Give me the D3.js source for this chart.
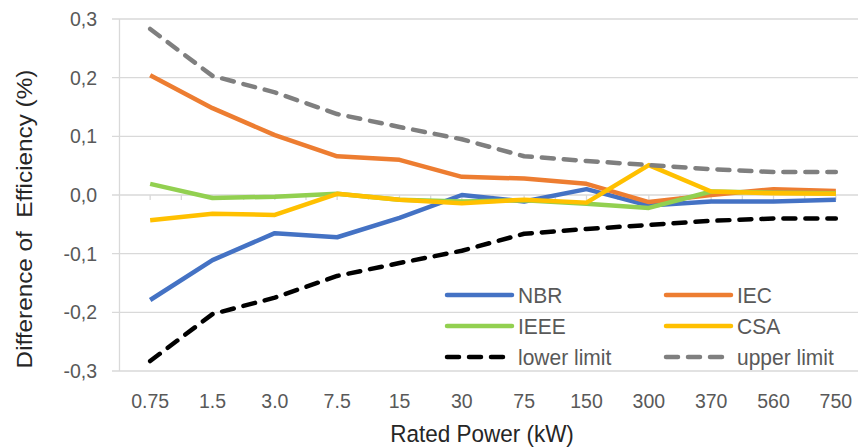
<!DOCTYPE html>
<html>
<head>
<meta charset="utf-8">
<script src="https://cdn.jsdelivr.net/npm/d3@7"></script>
<style>
  body { margin: 0; background: #fff; }
  text { font-family: "Liberation Sans", Arial, sans-serif; }
</style>
</head>
<body>
<div id="chart"></div>
<script>
// rated power categories
const categories = ["0.75", "1.5", "3.0", "7.5", "15", "30", "75", "150", "300", "370", "560", "750"];
const yTicks = [-0.3, -0.2, -0.1, 0.0, 0.1, 0.2, 0.3];

const nbr   = [-0.179, -0.111, -0.065, -0.072, -0.039, 0.000, -0.011, 0.010, -0.018, -0.011, -0.011, -0.008];
const iec   = [0.204, 0.148, 0.102, 0.066, 0.060, 0.031, 0.028, 0.019, -0.012, 0.000, 0.010, 0.007];
const ieee  = [0.019, -0.005, -0.003, 0.002, -0.008, -0.011, -0.009, -0.015, -0.022, 0.006, 0.004, 0.003];
const csa   = [-0.043, -0.032, -0.034, 0.002, -0.008, -0.014, -0.008, -0.013, 0.051, 0.006, 0.003, 0.002];
const lower = [-0.283, -0.203, -0.175, -0.138, -0.116, -0.095, -0.066, -0.058, -0.051, -0.044, -0.040, -0.040];
const upper = [0.283, 0.203, 0.175, 0.138, 0.116, 0.095, 0.066, 0.058, 0.051, 0.044, 0.039, 0.039];

const seriesNames = ["NBR", "IEC", "IEEE", "CSA", "lower limit", "upper limit"];
const seriesValues = [nbr, iec, ieee, csa, lower, upper];
const colors = ["#4472C4", "#ED7D31", "#92D050", "#FFC000", "#000000", "#7F7F7F"];
const dashed = [false, false, false, false, true, true];

const W = 858, H = 447;
const margin = {top: 19, left: 119, bottom: 76};
const plotRight = 867;   // plot area runs a bit past the picture edge
const stretch = 1.08;    // the text in the original is a little taller than wide

const svg = d3.select("#chart").append("svg")
    .attr("width", W)
    .attr("height", H);

const x = d3.scaleBand()
    .domain(categories)
    .range([margin.left, plotRight]);

const y = d3.scaleLinear()
    .domain([-0.3, 0.3])
    .range([H - margin.bottom, margin.top]);

const cx = c => x(c) + x.bandwidth() / 2;
const fmt = d => d3.format(".1f")(d).replace(".", ",").replace("−", "-");

// gridlines
svg.append("g")
    .selectAll("line")
    .data(yTicks)
    .enter()
    .append("line")
        .attr("x1", margin.left - 7)
        .attr("x2", W)
        .attr("y1", d => y(d))
        .attr("y2", d => y(d))
        .style("stroke", "#d9d9d9")
        .style("stroke-width", 1.3);

// vertical axis line
svg.append("line")
    .attr("x1", margin.left + 0.5).attr("x2", margin.left + 0.5)
    .attr("y1", y(0.3)).attr("y2", y(-0.3))
    .style("stroke", "#d9d9d9")
    .style("stroke-width", 1.3);

// small tick marks along the zero line, at centres and boundaries
const tickXs = [];
categories.forEach(c => { tickXs.push(cx(c)); tickXs.push(x(c) + x.bandwidth()); });
svg.append("g")
    .selectAll("line")
    .data(tickXs)
    .enter()
    .append("line")
        .attr("x1", d => d).attr("x2", d => d)
        .attr("y1", y(0)).attr("y2", y(0) + 5)
        .style("stroke", "#d9d9d9")
        .style("stroke-width", 1.3);

// y tick labels
svg.append("g")
    .selectAll("text")
    .data(yTicks)
    .enter()
    .append("text")
        .attr("transform", d => `translate(97, ${y(d) + 7}) scale(1, ${stretch})`)
        .attr("text-anchor", "end")
        .style("font-size", "19.5px")
        .style("fill", "#595959")
        .text(d => fmt(d));

// x tick labels
svg.append("g")
    .selectAll("text")
    .data(categories)
    .enter()
    .append("text")
        .attr("transform", d => `translate(${cx(d)}, 408) scale(1, ${stretch})`)
        .attr("text-anchor", "middle")
        .style("font-size", "19.5px")
        .style("fill", "#595959")
        .text(d => d);

// axis titles
svg.append("text")
    .attr("transform", `translate(482, 442) scale(1, ${stretch})`)
    .attr("text-anchor", "middle")
    .style("font-size", "22.5px")
    .style("fill", "#262626")
    .text("Rated Power (kW)");

svg.append("text")
    .attr("transform", `translate(32, 219) rotate(-90) scale(${stretch}, 1)`)
    .attr("text-anchor", "middle")
    .attr("xml:space", "preserve")
    .style("white-space", "pre")
    .style("font-size", "22.5px")
    .style("fill", "#262626")
    .text("Difference of  Efficiency (%)");

// series lines
const line = d3.line()
    .x((d, i) => cx(categories[i]))
    .y(d => y(d));

seriesValues.forEach((vals, k) => {
    svg.append("path")
        .datum(vals)
        .attr("d", line)
        .style("fill", "none")
        .style("stroke", colors[k])
        .style("stroke-width", 4.5)
        .style("stroke-linejoin", "round")
        .style("stroke-linecap", dashed[k] ? "round" : "butt")
        .style("stroke-dasharray", dashed[k] ? "12,10" : null);
});

// legend
const legendCols = [445, 664];
const legendRows = [295, 326, 357];
seriesNames.forEach((name, k) => {
    const lx = legendCols[k % 2];
    const ly = legendRows[Math.floor(k / 2)];
    svg.append("line")
        .attr("x1", lx + 2).attr("x2", dashed[k] ? lx + 62 : lx + 67)
        .attr("y1", ly).attr("y2", ly)
        .style("stroke", colors[k])
        .style("stroke-width", 4.5)
        .style("stroke-linecap", "round")
        .style("stroke-dasharray", dashed[k] ? "12,10" : null);
    svg.append("text")
        .attr("transform", `translate(${lx + 73}, ${ly + 8}) scale(1, ${stretch})`)
        .style("font-size", "21px")
        .style("fill", "#595959")
        .text(name);
});
</script>
</body>
</html>
